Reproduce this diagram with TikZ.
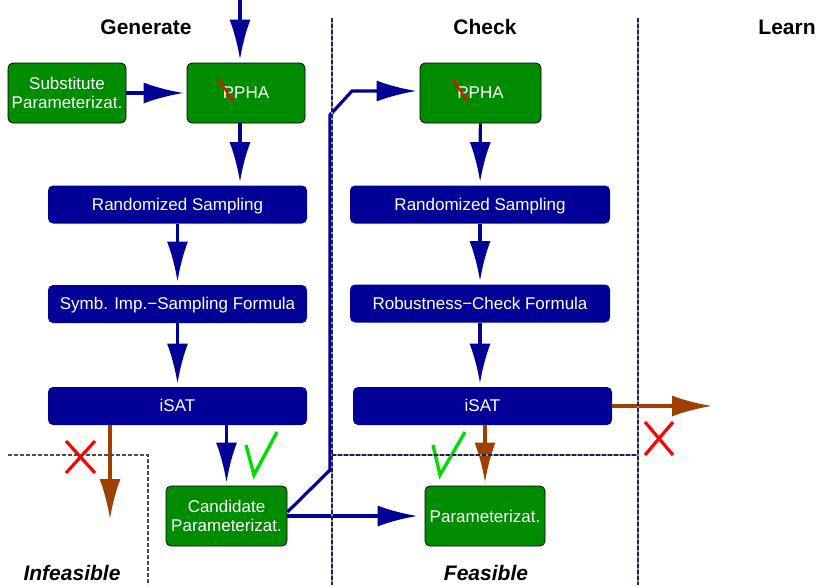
\documentclass[tikz,border=0pt]{standalone}
\usepackage{fontspec}
\setmainfont{Liberation Sans}
\usetikzlibrary{arrows.meta,calc}

\definecolor{boxgreen}{RGB}{0,140,0}
\definecolor{boxblue}{RGB}{0,0,150}
\definecolor{failbrown}{RGB}{160,64,0}
\definecolor{okgreen}{RGB}{0,220,0}

\begin{document}
\begin{tikzpicture}[x=0.5pt,y=-0.5pt,
    txt/.style={font=\fontsize{8.5}{9.6}\selectfont},
    greenbox/.style={txt, draw=black, fill=boxgreen, text=white, rounded corners=2.5pt,
        minimum width=59pt, minimum height=30pt, align=center, inner sep=1pt},
    bluebox/.style={txt, fill=boxblue, text=white, rounded corners=2.5pt,
        minimum width=129.5pt, minimum height=19pt, inner sep=1pt,
        text height=6.2pt, text depth=0.4pt},
    title/.style={font=\fontsize{10.5}{12}\selectfont\bfseries},
    flow/.style={-{Latex[length=20pt,width=10.5pt]}, line width=1.6pt, draw=boxblue, shorten >=1.5pt},
    fail/.style={flow, draw=failbrown},
    strike/.style={draw=red, line width=1.1pt},
    cross/.style={draw=red, line width=1.6pt},
    tick/.style={draw=okgreen, line width=1.7pt},
    lane/.style={dash pattern=on 2pt off 1pt, line width=0.6pt, draw=black!85},
    laneback/.style={line width=1pt, draw=blue!45}]
    \useasboundingbox (0,0) rectangle (817,585);

    % column titles
    \node[title] at (146,27) (gen)   {Generate};
    \node[title] at (485,27) (chk)   {Check};
    \node[title] at (787,27) (learn) {Learn};

    % generate column
    \node[greenbox] at (67,93)      (subst) {Substitute\\Parameterizat.};
    \node[greenbox] at (246,93)     (ppha1) {PPHA};
    \node[bluebox]  at (177.5,204.5) (rs1)  {Randomized Sampling};
    \node[bluebox]  at (177.5,304)  (symb)  {Symb. Imp.−Sampling Formula};
    \node[bluebox]  at (177.5,406)  (isat1) {iSAT};
    \node[greenbox, minimum width=60.5pt] at (226.5,516) (cand) {Candidate\\Parameterizat.};

    % check column
    \node[greenbox, minimum width=60.5pt] at (480.5,93) (ppha2) {PPHA};
    \node[bluebox, minimum width=130pt] at (480,204.5) (rs2)   {Randomized Sampling};
    \node[bluebox, minimum width=130pt] at (480,303.5) (rob)   {Robustness−Check Formula};
    \node[bluebox]  at (482.5,406)  (isat2) {iSAT};
    \node[greenbox, minimum width=60pt] at (485,516) (param) {Parameterizat.};

    % outcome labels
    \node[title, font=\fontsize{10.5}{12}\selectfont\bfseries\itshape] at (72,573)  (infeas) {Infeasible};
    \node[title, font=\fontsize{10.5}{12}\selectfont\bfseries\itshape] at (486,573) (feas)   {Feasible};

    % loose ends and bends
    \coordinate (in)   at (240,0);
    \coordinate (down) at (110,522);
    \coordinate (out)  at (715,406);
    \coordinate (b1)   at (330,470);
    \coordinate (b2)   at (330,115);
    \coordinate (b3)   at (352,91);

    % crossed-out P
    \draw[strike] ($(ppha1.center)+(-28,-14)$) -- ++(15,22);
    \draw[strike] ($(ppha2.center)+(-28,-14)$) -- ++(15,22);

    \draw[flow] (in) -- (in |- ppha1.north);
    \draw[flow] (subst) -- (ppha1);
    \draw[flow] (ppha1.south -| in) -- (rs1.north -| in);
    \draw[flow] (rs1) -- (symb);
    \draw[flow] (symb) -- (isat1);
    \draw[fail] (isat1.south -| down) -- (down);
    \draw[flow] (isat1.south -| cand.north) -- (cand.north);
    \draw[flow, shorten >=3.5pt] (cand.east) -- (param.west);
    \draw[flow] ([yshift=2pt]cand.east) -- (b1) -- (b2) -- (b3) -- (b3 -| ppha2.west);

    \draw[flow] (ppha2) -- (rs2);
    \draw[flow] (rs2) -- (rob);
    \draw[flow] (rob.south) -- (rob.south |- isat2.north);
    \draw[fail] (isat2.south -| param.north) -- (param.north);
    \draw[fail] (isat2.east) -- (out);

    % verdicts
    \draw[cross] (66,441) -- (95,473) (95,441) -- (66,473);
    \draw[cross] (645,422) -- (673,455) (673,422) -- (645,455);
    \draw[tick] (246,445) -- (254,475) -- (277,432);
    \draw[tick] (433,445) -- (440,475) -- (465,432);

    % lanes
    \draw[laneback] (332,18) -- (332,585) (638,18) -- (638,585) (332,455) -- (638,455);
    \draw[lane] (332,18) -- (332,585) (638,18) -- (638,585) (332,455) -- (638,455);
    \draw[lane, draw=black!70] (8,455) -- (148,455) -- (148,585);
\end{tikzpicture}
\end{document}
